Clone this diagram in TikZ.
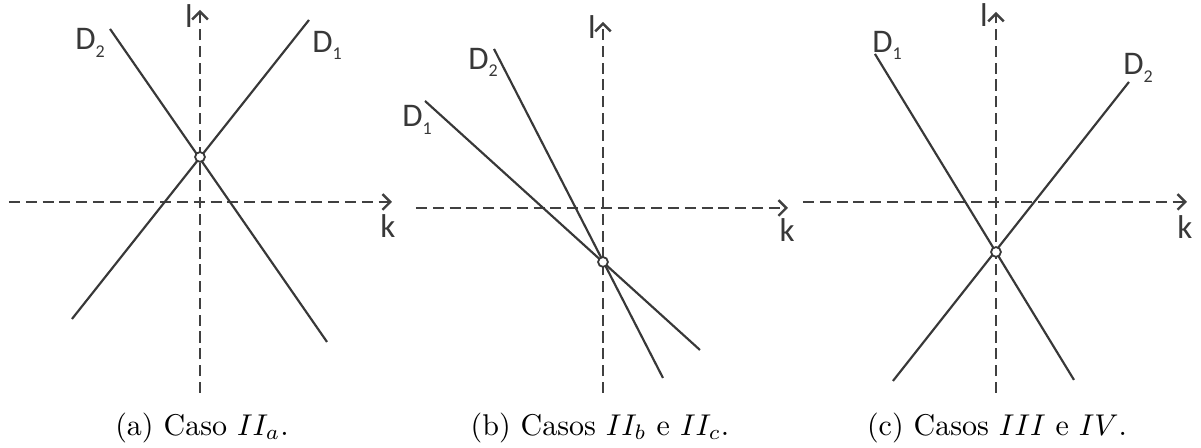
\documentclass[tikz,border=0pt]{standalone}
\usepackage{fontspec}
\usetikzlibrary{arrows.meta}
\newfontfamily\etiqfont{Carlito}
\definecolor{traco}{HTML}{383838}
\definecolor{eixocor}{HTML}{404040}
\newcommand{\Dsub}[1]{D\raisebox{-0.45ex}{\fontsize{6}{7}\selectfont #1}}
\tikzset{
  eixo/.style={
    line width=0.8pt, eixocor, dash pattern=on 3.7pt off 1.9pt,
    -{Straight Barb[length=2.6pt, width=5.2pt]}
  },
  reta/.style={line width=0.72pt, traco},
  ponto/.style={
    circle, draw=traco, fill=white, line width=0.6pt,
    inner sep=0pt, minimum size=0.115cm
  },
  rotulo/.style={
    inner sep=0pt, text=traco,
    font=\etiqfont\fontsize{11}{12}\selectfont
  },
  legenda/.style={inner sep=0pt, font=\normalsize}
}
\begin{document}
\begin{tikzpicture}
  \useasboundingbox (0,0) rectangle (14.07,5.248);
  % Caso II_a
  \begin{scope}[shift={(2.343,2.882)}]
    \draw[eixo] (-2.238,0) -- (2.249,0);
    \draw[eixo] (0,-2.238) -- (0,2.249);
    \node[rotulo] (ak) at (2.202,-0.281) {k};
    \node[rotulo] (al) at (-0.129,2.179) {l};
    \draw[reta] (-1.500,-1.371) -- (1.277,2.132);
    \draw[reta] (-1.054,2.027) -- (1.488,-1.640);
    \node[rotulo] (aD1) at (1.488,1.839) {\Dsub{1}};
    \node[rotulo] (aD2) at (-1.289,1.863) {\Dsub{2}};
    \node[ponto] (aP) at (0,0.527) {};
    \node[legenda] (acap) at (0.023,-2.648) {(a) Caso $II_a$.};
  \end{scope}
  % Casos II_b e II_c
  \begin{scope}[shift={(7.064,2.812)}]
    \draw[eixo] (-2.191,0) -- (2.167,0);
    \draw[eixo] (0,-2.167) -- (0,2.179);
    \node[rotulo] (bk) at (2.156,-0.258) {k};
    \node[rotulo] (bl) at (-0.129,2.120) {l};
    \draw[reta] (-2.085,1.253) -- (1.136,-1.664);
    \draw[reta] (-1.277,1.863) -- (0.703,-1.992);
    \node[rotulo] (bD1) at (-2.179,1.031) {\Dsub{1}};
    \node[rotulo] (bD2) at (-1.406,1.710) {\Dsub{2}};
    \node[ponto] (bP) at (0,-0.633) {};
    \node[legenda] (bcap) at (-0.035,-2.578) {(b) Casos $II_b$ e $II_c$.};
  \end{scope}
  % Casos III e IV
  \begin{scope}[shift={(11.668,2.882)}]
    \draw[eixo] (-2.261,0) -- (2.238,0);
    \draw[eixo] (0,-2.238) -- (0,2.226);
    \node[rotulo] (ck) at (2.214,-0.293) {k};
    \node[rotulo] (cl) at (-0.141,2.191) {l};
    \draw[reta] (-1.418,1.734) -- (0.914,-2.085);
    \draw[reta] (-1.207,-2.097) -- (1.558,1.406);
    \node[rotulo] (cD1) at (-1.277,1.839) {\Dsub{1}};
    \node[rotulo] (cD2) at (1.664,1.570) {\Dsub{2}};
    \node[ponto] (cP) at (0,-0.586) {};
    \node[legenda] (ccap) at (0.012,-2.648) {(c) Casos $III$ e $IV$.};
  \end{scope}
\end{tikzpicture}
\end{document}
